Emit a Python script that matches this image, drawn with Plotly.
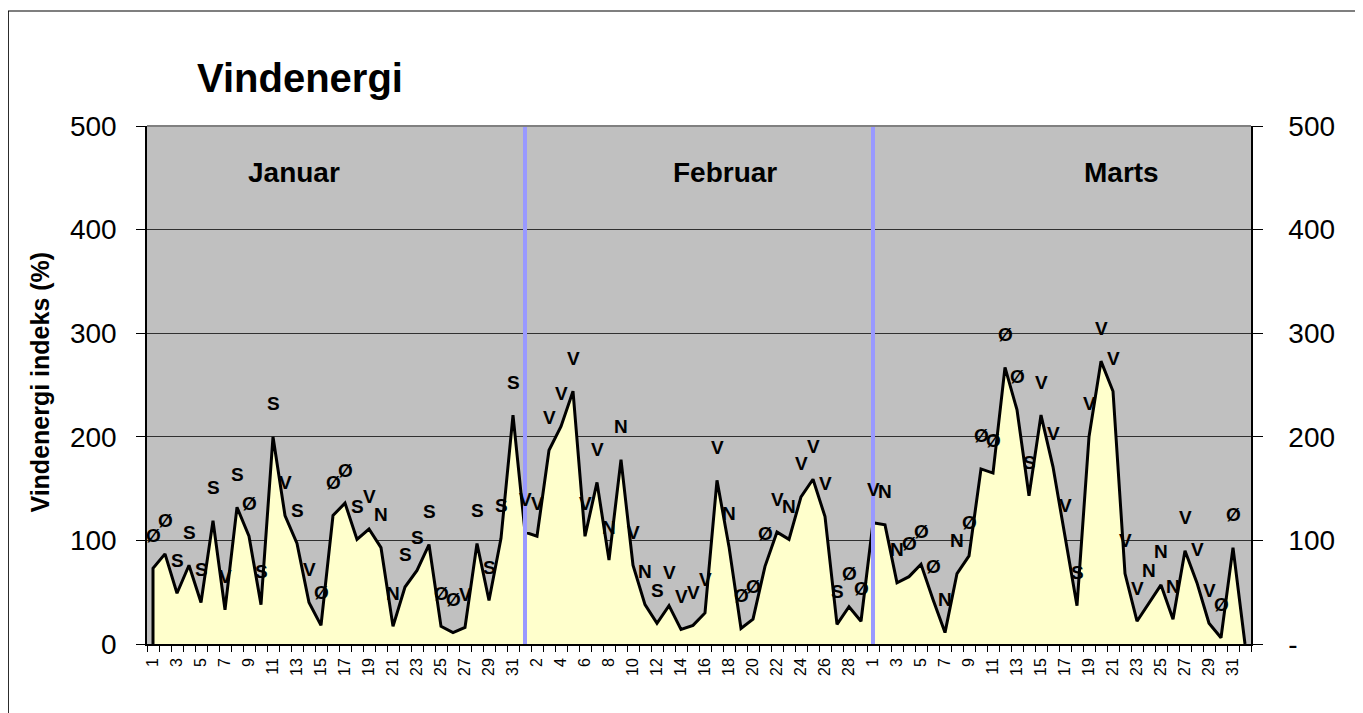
import plotly.graph_objects as go

# ---------------- data ----------------
month_names = ["Januar", "Februar", "Marts"]
days_in_month = [31, 29, 31]

jan_vals = [73, 87, 49, 76, 40, 119, 33, 132, 104, 38, 200, 124, 97, 40, 18, 124,
            136, 101, 111, 93, 17, 55, 71, 96, 17, 11, 16, 97, 42, 102, 221]
jan_dirs = ["Ø", "Ø", "S", "S", "S", "S", "V", "S", "Ø", "S", "S", "V", "S", "V", "Ø", "Ø",
            "Ø", "S", "V", "N", "N", "S", "S", "S", "Ø", "Ø", "V", "S", "S", "S", "S"]

feb_vals = [108, 104, 187, 210, 244, 104, 156, 81, 178, 76, 38, 20, 37, 14, 18, 30,
            158, 94, 15, 24, 75, 108, 101, 142, 159, 123, 19, 36, 22]
feb_dirs = ["V", "V", "V", "V", "V", "V", "V", "N", "N", "V", "N", "S", "V", "V", "V", "V",
            "V", "N", "Ø", "Ø", "Ø", "V", "N", "V", "V", "V", "S", "Ø", "Ø"]

mar_vals = [117, 115, 59, 65, 77, 43, 11, 68, 85, 169, 165, 267, 226, 143, 221, 171,
            102, 37, 200, 273, 244, 68, 22, 39, 57, 24, 90, 59, 20, 6, 93]
mar_dirs = ["V", "N", "N", "Ø", "Ø", "Ø", "N", "N", "Ø", "Ø", "Ø", "Ø", "Ø", "S", "V", "V",
            "V", "S", "V", "V", "V", "V", "V", "N", "N", "N", "V", "V", "V", "Ø", "Ø"]

tail_vals = [0]      # empty trailing category (drawn as 0)
tail_dirs = [""]

right_ticktext = ["-", "100", "200", "300", "400", "500"]
y_tickvals = [0, 100, 200, 300, 400, 500]

# ---------------- build ----------------
values = jan_vals + feb_vals + mar_vals + tail_vals
dirs = jan_dirs + feb_dirs + mar_dirs + tail_dirs
day_labels = []
for n in days_in_month:
    day_labels += [str(d) for d in range(1, n + 1)]
day_labels += [""]
x = list(range(1, len(values) + 1))

month_starts = []
acc = 1
for n in days_in_month:
    month_starts.append(acc)
    acc += n

FONT = "Liberation Sans, Arial, sans-serif"

fig = go.Figure()
fig.add_trace(go.Scatter(
    x=[x[0]] + x, y=[0] + values, mode="lines",
    line=dict(color="black", width=3),
    fill="tozeroy", fillcolor="#FFFFCC",
    showlegend=False, hoverinfo="skip"))
fig.add_trace(go.Scatter(
    x=x, y=values, yaxis="y2", mode="lines",
    line=dict(color="rgba(0,0,0,0)", width=0),
    showlegend=False, hoverinfo="skip"))

annotations = []
for xi, v, d in zip(x, values, dirs):
    if d:
        annotations.append(dict(x=xi, y=v, text=d, showarrow=False, yshift=33,
                                xanchor="center", yanchor="middle",
                                font=dict(family=FONT, size=19, color="black", weight="bold")))

# title
annotations.append(dict(xref="paper", yref="paper", x=0.0432, y=1.093, text="Vindenergi",
                        showarrow=False, xanchor="left", yanchor="middle",
                        font=dict(family=FONT, size=40, color="black", weight="bold")))
# month labels
for name, px in zip(month_names, [0.1329, 0.5233, 0.8829]):
    annotations.append(dict(xref="paper", yref="paper", x=px, y=0.911, text=name,
                            showarrow=False, xanchor="center", yanchor="middle",
                            font=dict(family=FONT, size=28, color="black", weight="bold")))
# y axis title
annotations.append(dict(xref="paper", yref="paper", x=-0.0972, y=0.506,
                        text="Vindenergi indeks (%)", textangle=-90, showarrow=False,
                        xanchor="center", yanchor="middle",
                        font=dict(family=FONT, size=25, color="black", weight="bold")))

shapes = []
for ms in month_starts[1:]:
    shapes.append(dict(type="line", xref="x", yref="y", x0=ms, x1=ms, y0=0, y1=500,
                       line=dict(color="#9999FF", width=4), layer="above"))
# top edge of plot area
shapes.append(dict(type="line", xref="paper", yref="paper", x0=0, x1=1, y0=1, y1=1,
                   line=dict(color="#808080", width=2)))
# outer chart border
shapes.append(dict(type="rect", xref="paper", yref="paper", x0=-0.1257, x1=1.5,
                   y0=-0.6, y1=1.222, line=dict(color="black", width=1.2)))

fig.update_layout(
    width=1355, height=705,
    margin=dict(l=139, r=112, t=118, b=69),
    paper_bgcolor="white", plot_bgcolor="#C0C0C0",
    font=dict(family=FONT, color="black"),
    showlegend=False,
    annotations=annotations, shapes=shapes,
    xaxis=dict(
        range=[0.5, len(values) + 0.5],
        tickmode="array", tickvals=x[::2], ticktext=day_labels[::2],
        tickangle=-90, tickfont=dict(family=FONT, size=16, color="black"),
        ticks="outside", ticklen=6, tickcolor="rgba(0,0,0,0)",
        minor=dict(ticks="outside", ticklen=6, tickcolor="black", tickwidth=1,
                   tickmode="linear", tick0=0.5, dtick=1, showgrid=False),
        showgrid=False, zeroline=False,
        showline=True, linecolor="black", linewidth=1.5,
    ),
    yaxis=dict(
        range=[0, 500], tickmode="array", tickvals=y_tickvals,
        tickfont=dict(family=FONT, size=28, color="black"),
        ticks="outside", ticklen=9, tickcolor="black", ticklabelstandoff=14,
        showgrid=True, gridcolor="#303030", gridwidth=1, zeroline=False,
        showline=True, linecolor="black", linewidth=1.5,
    ),
    yaxis2=dict(
        range=[0, 500], overlaying="y", side="right",
        tickmode="array", tickvals=y_tickvals, ticktext=right_ticktext,
        tickfont=dict(family=FONT, size=28, color="black"),
        ticks="outside", ticklen=10, tickcolor="black", ticklabelstandoff=20,
        showgrid=False, zeroline=False,
        showline=True, linecolor="black", linewidth=1.5,
    ),
)

fig.write_html("out.html")
